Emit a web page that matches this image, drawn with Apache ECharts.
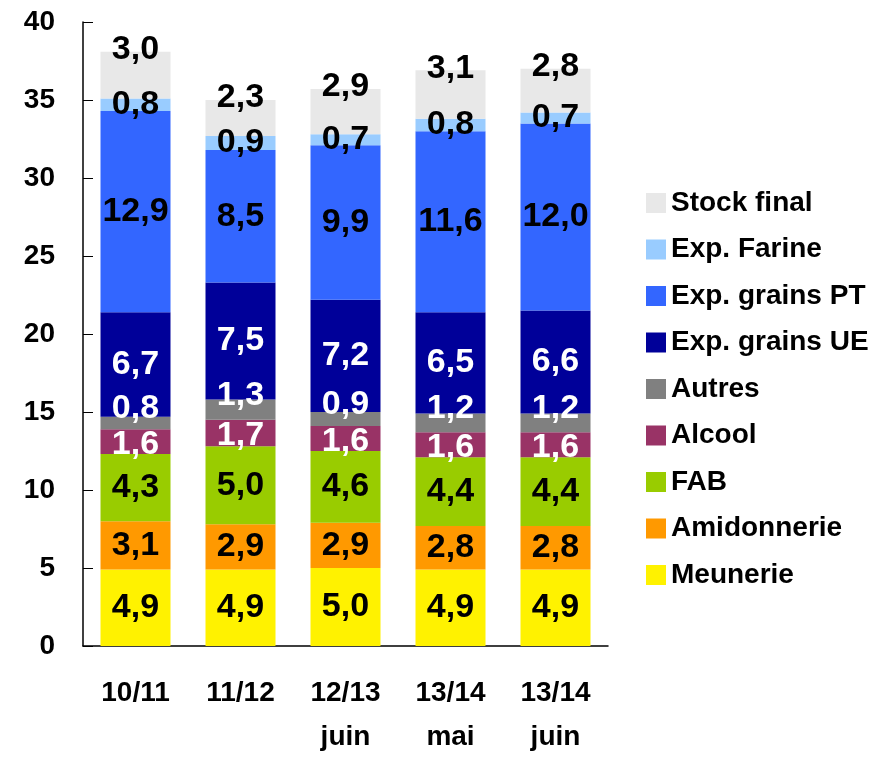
<!DOCTYPE html>
<html>
<head>
<meta charset="utf-8">
<script src="https://cdn.jsdelivr.net/npm/echarts@6/dist/echarts.min.js"></script>
<style>
  html, body { margin: 0; padding: 0; background: #fff; }
  #chart { width: 891px; height: 759px; }
</style>
</head>
<body>
<div id="chart"></div>
<script>
// campagnes
const categories = ['10/11', '11/12', '12/13\njuin', '13/14\nmai', '13/14\njuin']
const yTicks = [0, 5, 10, 15, 20, 25, 30, 35, 40]

// valeurs (Mt), du bas vers le haut
const meunerie = [4.9, 4.9, 5.0, 4.9, 4.9]
const amidonnerie = [3.1, 2.9, 2.9, 2.8, 2.8]
const fab = [4.3, 5.0, 4.6, 4.4, 4.4]
const alcool = [1.6, 1.7, 1.6, 1.6, 1.6]
const autres = [0.8, 1.3, 0.9, 1.2, 1.2]
const expUE = [6.7, 7.5, 7.2, 6.5, 6.6]
const expPT = [12.9, 8.5, 9.9, 11.6, 12.0]
const expFarine = [0.8, 0.9, 0.7, 0.8, 0.7]
const stockFinal = [3.0, 2.3, 2.9, 3.1, 2.8]

const font = '"Liberation Sans", Arial, sans-serif'

const seriesDefs = [
  { name: 'Meunerie', data: meunerie, color: '#fff200', label: '#000' },
  { name: 'Amidonnerie', data: amidonnerie, color: '#ff9900', label: '#000' },
  { name: 'FAB', data: fab, color: '#99cc00', label: '#000' },
  { name: 'Alcool', data: alcool, color: '#993366', label: '#fff', offset: [0, 3] },
  { name: 'Autres', data: autres, color: '#808080', label: '#fff', offset: [0, -14] },
  { name: 'Exp. grains UE', data: expUE, color: '#000099', label: '#fff' },
  { name: 'Exp. grains PT', data: expPT, color: '#3366ff', label: '#000' },
  { name: 'Exp. Farine', data: expFarine, color: '#99ccff', label: '#000' },
  { name: 'Stock final', data: stockFinal, color: '#e8e8e8', label: '#000', top: true }
]

const series = seriesDefs.map(s => ({
  name: s.name,
  type: 'bar',
  stack: 'total',
  barWidth: 70,
  data: s.data,
  itemStyle: { color: s.color },
  label: {
    show: true,
    position: s.top ? 'insideTop' : 'inside',
    offset: s.top ? [0, -24] : (s.offset || [0, 0]),
    color: s.label,
    fontFamily: font,
    fontWeight: 'bold',
    fontSize: 34,
    formatter: p => p.value.toFixed(1).replace('.', ',')
  }
}))

const chart = echarts.init(document.getElementById('chart'))
chart.setOption({
  animation: false,
  grid: { left: 83, right: 283, top: 22, bottom: 107, containLabel: false },
  legend: {
    orient: 'vertical',
    left: 641,
    top: 183,
    itemWidth: 20,
    itemHeight: 20,
    itemGap: 16.5,
    icon: 'rect',
    data: seriesDefs.map(s => s.name).reverse(),
    textStyle: {
      fontFamily: font,
      fontWeight: 'bold',
      fontSize: 28,
      color: '#000',
      lineHeight: 30
    }
  },
  xAxis: {
    type: 'category',
    data: categories,
    axisLine: { lineStyle: { color: '#000', width: 1.5 } },
    axisTick: { inside: true, length: 9, lineStyle: { color: '#000' } },
    axisLabel: {
      margin: 25,
      color: '#000',
      fontFamily: font,
      fontWeight: 'bold',
      fontSize: 28,
      lineHeight: 44
    }
  },
  yAxis: {
    type: 'value',
    min: yTicks[0],
    max: yTicks[yTicks.length - 1],
    interval: 5,
    axisLine: { show: true, lineStyle: { color: '#000', width: 1.5 } },
    axisTick: { show: true, inside: true, length: 10, lineStyle: { color: '#000' } },
    splitLine: { show: false },
    axisLabel: {
      margin: 28,
      color: '#000',
      fontFamily: font,
      fontWeight: 'bold',
      fontSize: 28
    }
  },
  series
})
</script>
</body>
</html>
